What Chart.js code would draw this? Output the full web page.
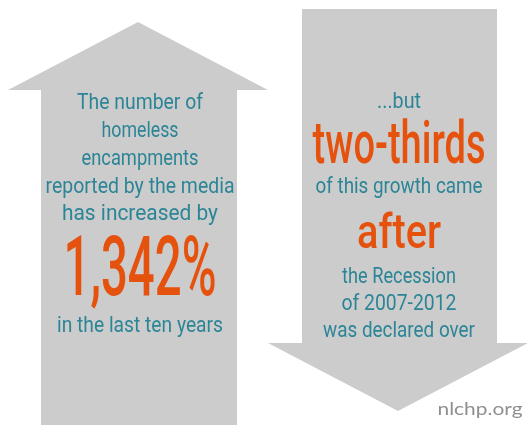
<!DOCTYPE html>
<html>
<head>
<meta charset="utf-8">
<script src="https://cdn.jsdelivr.net/npm/chart.js@4"></script>
<style>
  html, body { margin: 0; padding: 0; background: #fff; }
  #c { display: block; }
</style>
</head>
<body>
<canvas id="c" width="527" height="425"></canvas>
<script>
// arrow outlines, in the chart's own units (x 0..527, y 0..425 top-down)
const upArrowX = [41, 41, 8, 138, 268, 237, 237];
const upArrowY = [425, 90, 90, 22, 90, 90, 425];
const downArrowX = [302, 497, 497, 528, 398, 268, 302];
const downArrowY = [9, 9, 343, 343, 411, 343, 343];

// the two figures of the piece
const growthLabel = '1,342%';
const shareLabel = 'two-thirds';

const leftLines = ['The number of', 'homeless', 'encampments', 'reported by the media',
                   'has increased by', growthLabel, 'in the last ten years'];
const rightLines = ['...but', shareLabel, 'of this growth came', 'after',
                    'the Recession', 'of 2007-2012', 'was declared over'];
const sourceLabel = 'nlchp.org';

// layout for the text lines (centre x, baseline y, width, font size)
const TEAL = '#2b8596', ORANGE = '#e5520e', GREY = '#cccccc';
const leftLayout = {
    cx: 140,
    base: [109, 137, 165, 193, 220, 295, 332],
    width: [126, 77, 117, 189, 156, 153, 166],
    size: [22, 22, 22, 22, 22, 84, 22],
    color: [TEAL, TEAL, TEAL, TEAL, TEAL, ORANGE, TEAL]
};
const rightLayout = {
    cx: 399,
    base: [108, 163, 193, 248, 283, 310, 337],
    width: [44, 173, 167, 84, 114, 115, 152],
    size: [22, 60, 22, 48, 22, 22, 22],
    color: [TEAL, ORANGE, TEAL, ORANGE, TEAL, TEAL, TEAL]
};

const toPoints = (xs, ys) => xs.map((x, i) => ({x: x, y: ys[i]}));

function drawFitted(ctx, text, px, py, width, font, color) {
    ctx.save();
    ctx.font = font;
    const w = ctx.measureText(text).width;
    ctx.translate(px, py);
    ctx.scale(width / w, 1);
    ctx.textAlign = 'center';
    ctx.textBaseline = 'alphabetic';
    ctx.fillStyle = color;
    ctx.fillText(text, 0, 0);
    ctx.restore();
}

const textPlugin = {
    id: 'arrowText',
    afterDatasetsDraw(chart) {
        const ctx = chart.ctx;
        const xs = chart.scales.x, ys = chart.scales.y;
        [[leftLines, leftLayout], [rightLines, rightLayout]].forEach(([lines, lay]) => {
            lines.forEach((t, i) => {
                const weight = lay.color[i] === ORANGE ? '500 ' : '400 ';
                drawFitted(ctx, t, xs.getPixelForValue(lay.cx), ys.getPixelForValue(lay.base[i]),
                    lay.width[i], weight + lay.size[i] + 'px Roboto', lay.color[i]);
            });
        });
        drawFitted(ctx, sourceLabel, xs.getPixelForValue(480), ys.getPixelForValue(415),
            85, '17px Lato', '#8f8f8f');
    }
};

new Chart(document.getElementById('c'), {
    type: 'scatter',
    data: {
        datasets: [
            {data: toPoints(upArrowX, upArrowY)},
            {data: toPoints(downArrowX, downArrowY)}
        ].map(d => Object.assign(d, {
            showLine: true,
            fill: 'shape',
            backgroundColor: GREY,
            borderWidth: 0,
            pointRadius: 0,
            tension: 0
        }))
    },
    options: {
        responsive: false,
        animation: false,
        layout: {padding: 0},
        plugins: {legend: {display: false}, tooltip: {enabled: false}},
        scales: {
            x: {type: 'linear', min: 0, max: 527, display: false},
            y: {type: 'linear', min: 0, max: 425, reverse: true, display: false}
        }
    },
    plugins: [textPlugin]
});
</script>
</body>
</html>
